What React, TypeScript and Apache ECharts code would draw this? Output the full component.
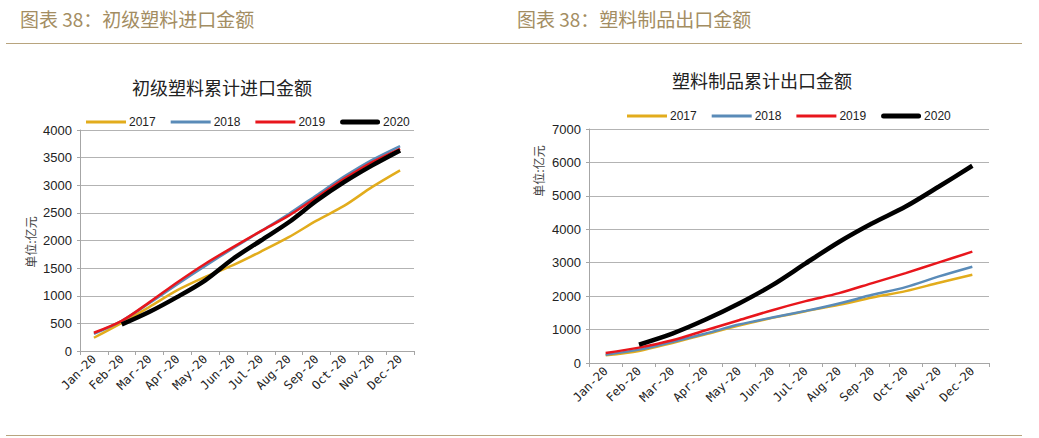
import React, { useEffect, useRef } from "react";
import * as echarts from "echarts";

const months = ["Jan-20", "Feb-20", "Mar-20", "Apr-20", "May-20", "Jun-20", "Jul-20", "Aug-20", "Sep-20", "Oct-20", "Nov-20", "Dec-20"];
const years = ["2017", "2018", "2019", "2020"];
const colors = ["#E2AC1C", "#5A8BB8", "#E8161C", "#000000"];

// Left: 初级塑料累计进口金额
const imp2017 = [240, 510, 800, 1100, 1340, 1555, 1800, 2060, 2360, 2630, 2970, 3270];
const imp2018 = [310, 545, 870, 1210, 1540, 1860, 2170, 2480, 2820, 3160, 3460, 3710];
const imp2019 = [330, 545, 885, 1245, 1580, 1880, 2170, 2450, 2780, 3120, 3420, 3660];
const imp2020 = [null, 480, 710, 980, 1280, 1670, 2000, 2330, 2720, 3060, 3360, 3630];

// Right: 塑料制品累计出口金额
const exp2017 = [230, 360, 600, 860, 1120, 1350, 1550, 1740, 1960, 2150, 2400, 2640];
const exp2018 = [250, 400, 630, 880, 1150, 1360, 1560, 1780, 2040, 2270, 2590, 2880];
const exp2019 = [300, 460, 680, 980, 1280, 1580, 1850, 2090, 2390, 2690, 3010, 3330];
const exp2020 = [null, 550, 880, 1300, 1780, 2330, 2980, 3620, 4180, 4680, 5280, 5900];

const leftTicks = { min: 0, max: 4000, interval: 500 };
const rightTicks = { min: 0, max: 7000, interval: 1000 };

const headerColor = "#A38D62";
const ruleColor = "#B8A47E";

const thinIcon = "path://M0,0 M40,6 M0,1.5 L40,1.5 L40,4.5 L0,4.5 Z";
const thickIcon = "path://M0,0 M40,6 M2.5,0.5 L37.5,0.5 A2.5,2.5 0 0 1 37.5,5.5 L2.5,5.5 A2.5,2.5 0 0 1 2.5,0.5 Z";

export default function App() {
  const ref = useRef<HTMLDivElement>(null);
  useEffect(() => {
    if (!ref.current) return;
    const chart = echarts.init(ref.current, null, { renderer: "svg" });
    const impData = [imp2017, imp2018, imp2019, imp2020];
    const expData = [exp2017, exp2018, exp2019, exp2020];
    const widths = [2.5, 2.5, 2.5, 4.5];

    const xAxisCommon = (gridIndex: number) => ({
      type: "category",
      gridIndex,
      data: months,
      boundaryGap: true,
      axisLine: { show: true, lineStyle: { color: "#A6A6A6", width: 1 } },
      axisTick: { show: true, alignWithLabel: false, length: 4, lineStyle: { color: "#A6A6A6" } },
      axisLabel: {
        rotate: 45,
        interval: 0,
        margin: 6,
        color: "#222",
        fontSize: 12,
        fontFamily: "DejaVu Sans Mono",
      },
      splitLine: { show: false },
    });
    const yAxisCommon = (gridIndex: number, t: any) => ({
      type: "value",
      gridIndex,
      min: t.min,
      max: t.max,
      interval: t.interval,
      axisLine: { show: true, lineStyle: { color: "#A6A6A6", width: 1 } },
      axisTick: { show: true, length: 3, lineStyle: { color: "#A6A6A6" } },
      axisLabel: {
        color: "#222",
        fontSize: 13,
        fontFamily: "Liberation Sans",
        margin: 8,
        formatter: (v: number) => String(v),
      },
      splitLine: { show: true, lineStyle: { color: "#B3B3B3", width: 1 } },
    });

    const series: any[] = [];
    years.forEach((y, i) => {
      series.push({
        name: y,
        type: "line",
        xAxisIndex: 0,
        yAxisIndex: 0,
        data: impData[i],
        smooth: 0.3,
        symbol: "none",
        lineStyle: { color: colors[i], width: widths[i] },
        itemStyle: { color: colors[i] },
        z: 2 + i,
      });
    });
    years.forEach((y, i) => {
      series.push({
        name: y,
        type: "line",
        xAxisIndex: 1,
        yAxisIndex: 1,
        data: expData[i],
        smooth: 0.3,
        symbol: "none",
        lineStyle: { color: colors[i], width: widths[i] },
        itemStyle: { color: colors[i] },
        z: 2 + i,
      });
    });

    const legendCommon = {
      data: years.map((y, i) => ({ name: y, icon: i === 3 ? thickIcon : thinIcon })),
      itemWidth: 40,
      itemHeight: 6,
      itemGap: 15,
      symbolKeepAspect: false,
      selectedMode: false,
      itemStyle: { borderWidth: 0 },
      lineStyle: { width: 0 },
      textStyle: { color: "#222", fontSize: 12, fontFamily: "Liberation Sans", padding: [0, 0, 0, -2] },
    };

    chart.setOption({
      animation: false,
      backgroundColor: "#ffffff",
      grid: [
        { left: 80, top: 130, width: 334, height: 221, containLabel: false },
        { left: 589, top: 129, width: 400, height: 234, containLabel: false },
      ],
      xAxis: [xAxisCommon(0), xAxisCommon(1)],
      yAxis: [yAxisCommon(0, leftTicks), yAxisCommon(1, rightTicks)],
      legend: [
        { ...legendCommon, left: 81, top: 111 },
        { ...legendCommon, left: 622, top: 105 },
      ],
      series,
      graphic: [
        {
          type: "text",
          left: 20,
          top: 9,
          style: { text: "图表 38：初级塑料进口金额", fill: headerColor, fontSize: 19, fontFamily: "Noto Sans CJK SC" },
        },
        {
          type: "text",
          left: 517,
          top: 9,
          style: { text: "图表 38：塑料制品出口金额", fill: headerColor, fontSize: 19, fontFamily: "Noto Sans CJK SC" },
        },
        { type: "line", shape: { x1: 6, y1: 43.5, x2: 1022, y2: 43.5 }, style: { stroke: ruleColor, lineWidth: 1 } },
        { type: "line", shape: { x1: 6, y1: 435.5, x2: 1022, y2: 435.5 }, style: { stroke: ruleColor, lineWidth: 1 } },
        {
          type: "text",
          x: 222,
          y: 87,
          style: { text: "初级塑料累计进口金额", fill: "#222", fontSize: 18, fontFamily: "Noto Sans CJK SC", align: "center", verticalAlign: "middle" },
        },
        {
          type: "text",
          x: 762,
          y: 80,
          style: { text: "塑料制品累计出口金额", fill: "#222", fontSize: 18, fontFamily: "Noto Sans CJK SC", align: "center", verticalAlign: "middle" },
        },
        {
          type: "text",
          x: 30,
          y: 242,
          rotation: Math.PI / 2,
          style: { text: "单位:亿元", fill: "#444", fontSize: 12, fontFamily: "Noto Sans CJK SC", align: "center", verticalAlign: "middle" },
        },
        {
          type: "text",
          x: 538,
          y: 171,
          rotation: Math.PI / 2,
          style: { text: "单位:亿元", fill: "#444", fontSize: 12, fontFamily: "Noto Sans CJK SC", align: "center", verticalAlign: "middle" },
        },
      ],
    });
    return () => chart.dispose();
  }, []);
  return <div ref={ref} style={{ position: "fixed", left: 0, top: 0, width: 1039, height: 438 }} />;
}
